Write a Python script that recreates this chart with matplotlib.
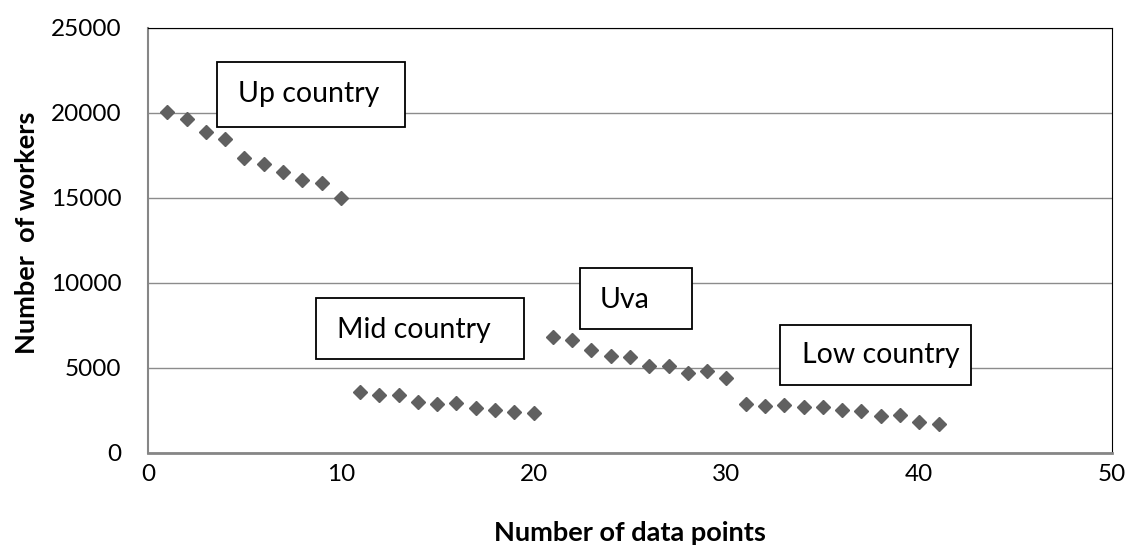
import matplotlib
matplotlib.use("Agg")
import matplotlib.pyplot as plt
from matplotlib.patches import Rectangle

# data
point_no = list(range(1, 42))
workers = [20050, 19610, 18880, 18430, 17350, 16980, 16530, 16020, 15880, 15000,
           3550, 3370, 3370, 2980, 2840, 2930, 2620, 2490, 2390, 2320,
           6800, 6650, 6060, 5680, 5620, 5080, 5080, 4710, 4800, 4410,
           2880, 2750, 2820, 2690, 2690, 2490, 2430, 2150, 2190, 1800, 1690]
region_names = ["Up country", "Mid country", "Uva", "Low country"]

# label boxes: (x0, x1, y0, y1) in data units, text anchor (x, y)
box_extent = [(3.56, 13.33, 19170, 22960), (8.71, 19.52, 5490, 9080),
              (22.4, 28.2, 7260, 10840), (32.78, 42.7, 3980, 7510)]
text_anchor = [(4.67, 21090), (9.79, 7215), (23.45, 8980), (33.9, 5745)]

plt.rcParams['font.family'] = ['Lato', 'DejaVu Sans']

fig = plt.figure(figsize=(11.33, 5.45), dpi=100)
ax = fig.add_axes([0.1306, 0.1694, 0.8509, 0.7796])

ax.set_xlim(0, 50)
ax.set_ylim(0, 25000)
ax.set_xticks(range(0, 51, 10))
ax.set_yticks(range(0, 25001, 5000))
ax.yaxis.grid(True, color='#8c8c8c', lw=1)
ax.set_axisbelow(True)

ax.plot(point_no, workers, ls='none', marker='D', ms=7.5, color='#606060', zorder=3)

for (x0, x1, y0, y1), (tx, ty), name in zip(box_extent, text_anchor, region_names):
    ax.add_patch(Rectangle((x0, y0), x1 - x0, y1 - y0, facecolor='white',
                           edgecolor='black', lw=1.3, zorder=4))
    ax.text(tx, ty, name, fontsize=20.5, va='center', ha='left', zorder=5)

ax.tick_params(length=0, labelsize=17.5)
ax.tick_params(axis='x', pad=8)
ax.tick_params(axis='y', pad=19)
ax.spines['left'].set_color('#868686')
ax.spines['bottom'].set_color('#868686')
ax.spines['bottom'].set_linewidth(2)
ax.spines['left'].set_linewidth(1.5)
ax.spines['top'].set_color('black')
ax.spines['right'].set_color('black')

ax.set_xlabel('Number of data points', fontsize=19.5, fontweight='bold', labelpad=26)
ax.set_ylabel('Number  of workers', fontsize=19.5, fontweight='bold')
ax.yaxis.set_label_coords(-0.113, 0.517)

fig.savefig('out.png', dpi=100)
